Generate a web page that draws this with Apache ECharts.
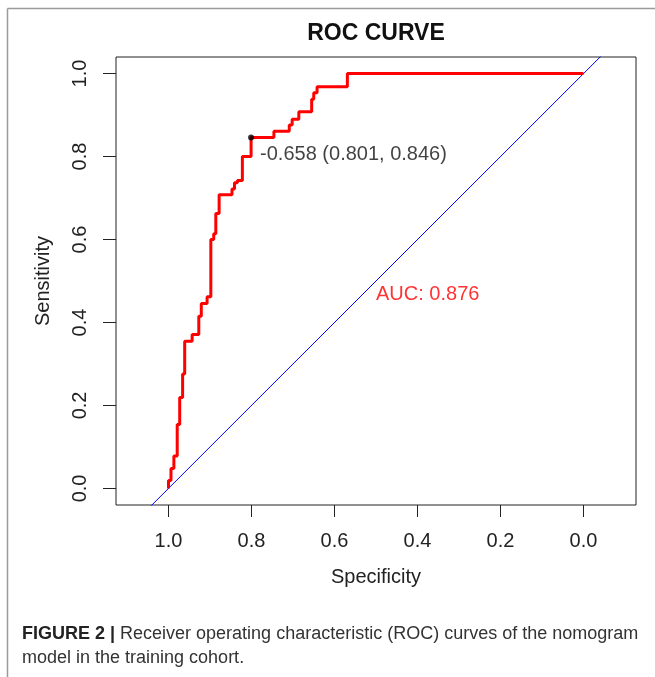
<!DOCTYPE html>
<html style="height: 100%;margin: 0;padding: 0;">
<head>
    <meta charset="utf-8">
    <title>ROC CURVE</title>
    <script src="https://cdn.jsdelivr.net/npm/echarts@6.0.0/dist/echarts.min.js"></script>
</head>
<body style="height: 100%;margin: 0;padding: 0;background:#fff;">
<div id="main" style="width:655px;height:677px;"></div>
<script type="text/javascript">
    // ROC 曲线的顶点（特异度, 灵敏度）
    var rocSpec = [1.000, 1.000, 0.994, 0.994, 0.987, 0.987, 0.979, 0.979, 0.973, 0.973,
                   0.966, 0.966, 0.961, 0.961, 0.943, 0.943, 0.927, 0.927, 0.921, 0.921,
                   0.907, 0.907, 0.898, 0.898, 0.891, 0.891, 0.886, 0.886, 0.878, 0.878,
                   0.847, 0.847, 0.841, 0.841, 0.834, 0.834, 0.822, 0.822, 0.801, 0.801,
                   0.746, 0.746, 0.709, 0.709, 0.702, 0.702, 0.686, 0.686, 0.655, 0.655,
                   0.650, 0.650, 0.642, 0.642, 0.569, 0.569, 0.000];
    var rocSens = [0.000, 0.019, 0.019, 0.048, 0.048, 0.078, 0.078, 0.154, 0.154, 0.219,
                   0.219, 0.276, 0.276, 0.355, 0.355, 0.371, 0.371, 0.415, 0.415, 0.446,
                   0.446, 0.462, 0.462, 0.600, 0.600, 0.614, 0.614, 0.663, 0.663, 0.708,
                   0.708, 0.722, 0.722, 0.737, 0.737, 0.742, 0.742, 0.800, 0.800, 0.846,
                   0.846, 0.861, 0.861, 0.876, 0.876, 0.890, 0.890, 0.908, 0.908, 0.938,
                   0.938, 0.954, 0.954, 0.968, 0.968, 1.000, 1.000];
    // 最佳阈值点
    var bestThres = -0.658;
    var bestSpec = 0.801;
    var bestSens = 0.846;
    var aucValue = 0.876;
    // 刻度
    var tickValues = [0, 0.2, 0.4, 0.6, 0.8, 1.0];
    // 对角线 (sens = 1 - spec)
    var diagSpec = [1.2, -0.2];
    var diagSens = [-0.2, 1.2];

    var font = "'Liberation Sans', Arial, sans-serif";
    var rocData = rocSpec.map(function (s, i) { return [s, rocSens[i]]; });
    var diagData = diagSpec.map(function (s, i) { return [s, diagSens[i]]; });

    var myChart = echarts.init(document.getElementById('main'));
    var option = {
        animation: false,
        backgroundColor: '#fff',
        title: {
            text: 'ROC CURVE',
            left: 376,
            top: 22,
            padding: 0,
            textAlign: 'center',
            textStyle: { fontFamily: font, fontSize: 23, fontWeight: 'bold', color: '#111' }
        },
        grid: {
            left: 116, right: 19, top: 57, bottom: 172,
            show: true, borderColor: '#222', borderWidth: 1,
            containLabel: false, outerBoundsMode: 'none'
        },
        xAxis: {
            type: 'value',
            inverse: true,
            min: -0.1265, max: 1.1265,
            name: 'Specificity',
            nameLocation: 'middle',
            nameGap: 62,
            nameTextStyle: { fontFamily: font, fontSize: 20, color: '#222' },
            axisLine: { show: false, onZero: false },
            splitLine: { show: false },
            axisTick: { show: true, customValues: tickValues, length: 12, lineStyle: { color: '#222' } },
            axisLabel: {
                customValues: tickValues, margin: 26,
                fontFamily: font, fontSize: 20, color: '#222',
                formatter: function (v) { return v.toFixed(1); }
            }
        },
        yAxis: {
            type: 'value',
            min: -0.04, max: 1.04,
            name: 'Sensitivity',
            nameLocation: 'middle',
            nameGap: 63,
            nameRotate: 90,
            nameTextStyle: { fontFamily: font, fontSize: 20, color: '#222' },
            axisLine: { show: false, onZero: false },
            splitLine: { show: false },
            axisTick: { show: true, customValues: tickValues, length: 13, lineStyle: { color: '#222' } },
            axisLabel: {
                customValues: tickValues, margin: 26, rotate: 90,
                fontFamily: font, fontSize: 20, color: '#222',
                formatter: function (v) { return v.toFixed(1); }
            }
        },
        graphic: [
            { type: 'line', shape: { x1: 7.5, y1: 8.5, x2: 7.5, y2: 677 }, style: { stroke: '#9a9a9a', lineWidth: 1.5 } },
            { type: 'line', shape: { x1: 7.5, y1: 8.5, x2: 655, y2: 8.5 }, style: { stroke: '#9a9a9a', lineWidth: 1.5 } },
            {
                type: 'text', left: 22, top: 625,
                style: {
                    text: '{b|FIGURE 2 |} Receiver operating characteristic (ROC) curves of the nomogram',
                    font: "18px 'Liberation Sans', Arial",
                    fill: '#333',
                    rich: { b: { fontWeight: 'bold', fontSize: 18, fontFamily: font, fill: '#222' } }
                }
            },
            {
                type: 'text', left: 22, top: 649,
                style: { text: 'model in the training cohort.', font: "18px 'Liberation Sans', Arial", fill: '#333' }
            }
        ],
        series: [
            {
                type: 'line', data: diagData, symbol: 'none', clip: true,
                lineStyle: { color: '#0000ff', width: 1 }, z: 2
            },
            {
                type: 'line', data: rocData, symbol: 'none', clip: true,
                lineStyle: { color: '#ff0000', width: 3 }, z: 3
            },
            {
                type: 'scatter',
                data: [[bestSpec, bestSens]],
                symbol: 'circle', symbolSize: 6,
                itemStyle: { color: '#000' }, z: 4,
                label: {
                    show: true, position: 'right', distance: 6, offset: [0, 17],
                    fontFamily: font, fontSize: 20, color: '#111',
                    formatter: function () {
                        return bestThres.toFixed(3) + ' (' + bestSpec.toFixed(3) + ', ' + bestSens.toFixed(3) + ')';
                    }
                }
            },
            {
                type: 'scatter',
                data: [[0.5, 0.5]],
                symbolSize: 0, z: 4,
                label: {
                    show: true, position: [0, 3], align: 'left', verticalAlign: 'top',
                    fontFamily: font, fontSize: 20, color: '#ff0000',
                    formatter: function () { return 'AUC: ' + aucValue.toFixed(3); }
                }
            }
        ]
    };
    myChart.setOption(option);
</script>
</body>
</html>
